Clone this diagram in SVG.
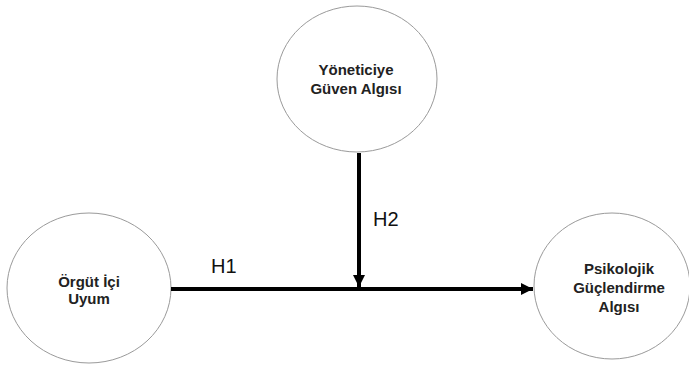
<svg xmlns="http://www.w3.org/2000/svg" width="689" height="367" viewBox="0 0 689 367">
<style>
.node{fill:#fff;stroke:#9a9a9a;stroke-width:1}
.lbl{font-family:"Liberation Sans",Arial,sans-serif;font-weight:bold;font-size:15px;fill:#222;text-anchor:middle}
.h{font-family:"Liberation Sans",Arial,sans-serif;font-size:20px;fill:#111}
.edge{stroke:#000;stroke-width:4;fill:none}
</style>
<defs>
<marker id="ah" viewBox="0 0 10 10" refX="10" refY="5" markerWidth="3" markerHeight="3" markerUnits="strokeWidth" orient="auto">
<path d="M0,0 L10,5 L0,10 z" fill="#000"/>
</marker>
</defs>
<rect width="689" height="367" fill="#fff"/>
<g id="node-yonetici">
<ellipse class="node" cx="357" cy="79" rx="80" ry="73"/>
<text class="lbl" x="356" y="75">Yöneticiye</text>
<text class="lbl" x="356" y="94">Güven Algısı</text>
</g>
<g id="node-orgut">
<ellipse class="node" cx="89" cy="288" rx="82" ry="75"/>
<text class="lbl" x="89" y="287">Örgüt İçi</text>
<text class="lbl" x="89" y="304">Uyum</text>
</g>
<g id="node-psikolojik">
<ellipse class="node" cx="612" cy="286" rx="78" ry="73"/>
<text class="lbl" x="619" y="274">Psikolojik</text>
<text class="lbl" x="619" y="293">Güçlendirme</text>
<text class="lbl" x="619" y="312">Algısı</text>
</g>
<g id="connectors">
<line class="edge" x1="171" y1="289" x2="533" y2="289" marker-end="url(#ah)"/>
<line class="edge" x1="359" y1="153" x2="359" y2="287" marker-end="url(#ah)"/>
<text class="h" x="211" y="273">H1</text>
<text class="h" x="373" y="226">H2</text>
</g>
</svg>
